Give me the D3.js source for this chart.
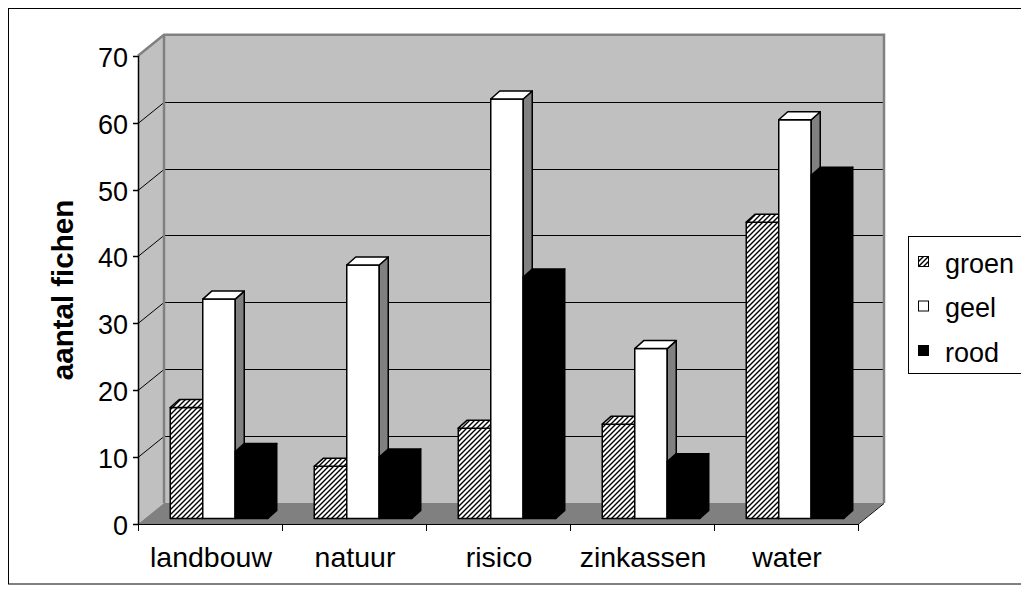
<!DOCTYPE html>
<html>
<head>
<meta charset="utf-8">
<script src="https://cdn.jsdelivr.net/npm/d3@7"></script>
<style>
  html, body { margin: 0; padding: 0; background: #fff; }
  svg { display: block; }
  text { font-family: "Liberation Sans", Arial, sans-serif; fill: #000; }
</style>
</head>
<body>
<svg id="chart" width="1021" height="596"></svg>
<script>
// Chart data
const categories = ["landbouw", "natuur", "risico", "zinkassen", "water"];
const seriesNames = ["groen", "geel", "rood"];
const groen = [16.6, 7.8, 13.5, 14.1, 44.3];
const geel  = [32.8, 37.9, 62.7, 25.4, 59.6];
const rood  = [10.0, 9.2, 36.1, 8.5, 51.3];
const yTicks = [0, 10, 20, 30, 40, 50, 60, 70];
const yTitle = "aantal fichen";

const seriesValues = [groen, geel, rood];

const svg = d3.select("#chart");

// hatch pattern for "groen"
const defs = svg.append("defs");
const pat = defs.append("pattern")
  .attr("id", "hatch")
  .attr("patternUnits", "userSpaceOnUse")
  .attr("width", 5).attr("height", 5);
pat.append("rect").attr("width", 5).attr("height", 5).attr("fill", "#fff");
pat.append("path")
  .attr("d", "M-1,1 l2,-2 M0,5 l5,-5 M4,6 l2,-2")
  .attr("stroke", "#000").attr("stroke-width", 1.4);

const fills = ["url(#hatch)", "#ffffff", "#000000"];
const tops  = ["url(#hatch)", "#ffffff", "#000000"];
const sides = ["url(#hatch)", "#808080", "#000000"];

// outer frame
svg.append("rect")
  .attr("x", 8.5).attr("y", 8.5)
  .attr("width", 1040).attr("height", 575.5)
  .attr("fill", "#fff").attr("stroke", "#000").attr("stroke-width", 1);

// plot geometry (front plane) and depth offsets
const x0 = 138, x1 = 858;
const DX = 26, DY = 21;          // wall depth
const y = d3.scaleLinear().domain([0, 70]).range([524, 55.7]);
const x = d3.scaleBand().domain(categories).range([x0, x1]).padding(0);
const inner = d3.scaleBand().domain(seriesNames).range([-48.75, 48.75]).padding(0);
const bx = 9, by = -5.5;         // bar plane offset
const bdx = 9, bdy = 8;          // bar depth

const yTop = y(70), yBot = y(0);

// side wall
svg.append("polygon")
  .attr("points", [[x0, yTop], [x0 + DX, yTop - DY], [x0 + DX, yBot - DY], [x0, yBot]].join(" "))
  .attr("fill", "#c0c0c0");
// back wall
svg.append("rect")
  .attr("x", x0 + DX).attr("y", yTop - DY)
  .attr("width", x1 - x0).attr("height", yBot - yTop)
  .attr("fill", "#c0c0c0");
// floor
svg.append("polygon")
  .attr("points", [[x0, yBot], [x1, yBot], [x1 + DX, yBot - DY], [x0 + DX, yBot - DY]].join(" "))
  .attr("fill", "#808080");

// gridlines on back and side walls
const grid = svg.append("g").attr("stroke", "#000").attr("stroke-width", 1);
yTicks.filter(v => v > 0 && v < 70).forEach(v => {
  const yy = Math.round(y(v)) + 0.5;
  grid.append("line")
    .attr("x1", x0 + DX).attr("x2", x1 + DX)
    .attr("y1", yy - DY).attr("y2", yy - DY);
  grid.append("line")
    .attr("x1", x0).attr("x2", x0 + DX)
    .attr("y1", yy).attr("y2", yy - DY);
});

// wall edges
const edge = svg.append("g").attr("stroke", "#808080").attr("stroke-width", 2.5).attr("fill", "none");
edge.append("path")
  .attr("d", `M${x0},${yTop} L${x0 + DX},${yTop - DY} L${x1 + DX},${yTop - DY} L${x1 + DX},${yBot - DY}`);
edge.append("path")
  .attr("d", `M${x0 + DX},${yTop - DY} L${x0 + DX},${yBot - DY}`);

// floor front/right edges (category axis)
svg.append("path")
  .attr("d", `M${x0},${yBot + 0.5} L${x1},${yBot + 0.5} L${x1 + DX},${yBot - DY + 0.5}`)
  .attr("fill", "none").attr("stroke", "#000").attr("stroke-width", 1);

// bars
const bars = svg.append("g").attr("stroke", "#000").attr("stroke-width", 1.5).attr("stroke-linejoin", "round");
categories.forEach((c, ci) => {
  seriesNames.forEach((s, si) => {
    const v = seriesValues[si][ci];
    const left = x(c) + x.bandwidth() / 2 + inner(s) + bx;
    const w = inner.bandwidth();
    const right = left + w;
    const base = y(0) + by;
    const top = y(v) + by;
    // front
    bars.append("rect")
      .attr("x", left).attr("y", top)
      .attr("width", w).attr("height", base - top)
      .attr("fill", fills[si]);
    // side
    bars.append("polygon")
      .attr("points", [[right, top], [right + bdx, top - bdy], [right + bdx, base - bdy], [right, base]].join(" "))
      .attr("fill", sides[si]);
    // top
    bars.append("polygon")
      .attr("points", [[left, top], [left + bdx, top - bdy], [right + bdx, top - bdy], [right, top]].join(" "))
      .attr("fill", tops[si]);
  });
});

// value axis
const yAxis = svg.append("g");
yAxis.append("line")
  .attr("x1", x0 + 0.5).attr("x2", x0 + 0.5)
  .attr("y1", yTop).attr("y2", yBot + 1)
  .attr("stroke", "#000").attr("stroke-width", 1.5);
yTicks.forEach(v => {
  const yy = Math.round(y(v)) + 0.5;
  yAxis.append("line")
    .attr("x1", x0 - 5).attr("x2", x0).attr("y1", yy).attr("y2", yy)
    .attr("stroke", "#000").attr("stroke-width", 1.5);
  yAxis.append("text")
    .attr("x", 128).attr("y", yy + 1)
    .attr("text-anchor", "end").attr("dominant-baseline", "central")
    .attr("font-size", 27)
    .text(v);
});

// category axis ticks and labels
const xAxis = svg.append("g");
d3.range(categories.length + 1).forEach(i => {
  const xx = x0 + i * x.bandwidth() + 0.5;
  xAxis.append("line")
    .attr("x1", xx).attr("x2", xx).attr("y1", yBot).attr("y2", yBot + 7)
    .attr("stroke", "#000").attr("stroke-width", 1);
});
categories.forEach(c => {
  xAxis.append("text")
    .attr("x", x(c) + x.bandwidth() / 2 + 1).attr("y", 557)
    .attr("text-anchor", "middle").attr("dominant-baseline", "central")
    .attr("font-size", 28.5)
    .text(c);
});

// value axis title
svg.append("text")
  .attr("transform", "translate(62,290) rotate(-90)")
  .attr("text-anchor", "middle").attr("dominant-baseline", "central")
  .attr("font-size", 29.5).attr("font-weight", "bold")
  .text(yTitle);

// legend
const lg = svg.append("g");
lg.append("rect")
  .attr("x", 908.5).attr("y", 236.5)
  .attr("width", 130).attr("height", 137)
  .attr("fill", "#fff").attr("stroke", "#000").attr("stroke-width", 1);
seriesNames.forEach((s, i) => {
  const cy = 261.5 + i * 44.5;
  lg.append("rect")
    .attr("x", 918.5).attr("y", cy - 5)
    .attr("width", 10).attr("height", 10)
    .attr("fill", fills[i]).attr("stroke", "#000").attr("stroke-width", 1);
  lg.append("text")
    .attr("x", 945).attr("y", cy + 2)
    .attr("dominant-baseline", "central")
    .attr("font-size", 27)
    .text(s);
});
</script>
</body>
</html>
